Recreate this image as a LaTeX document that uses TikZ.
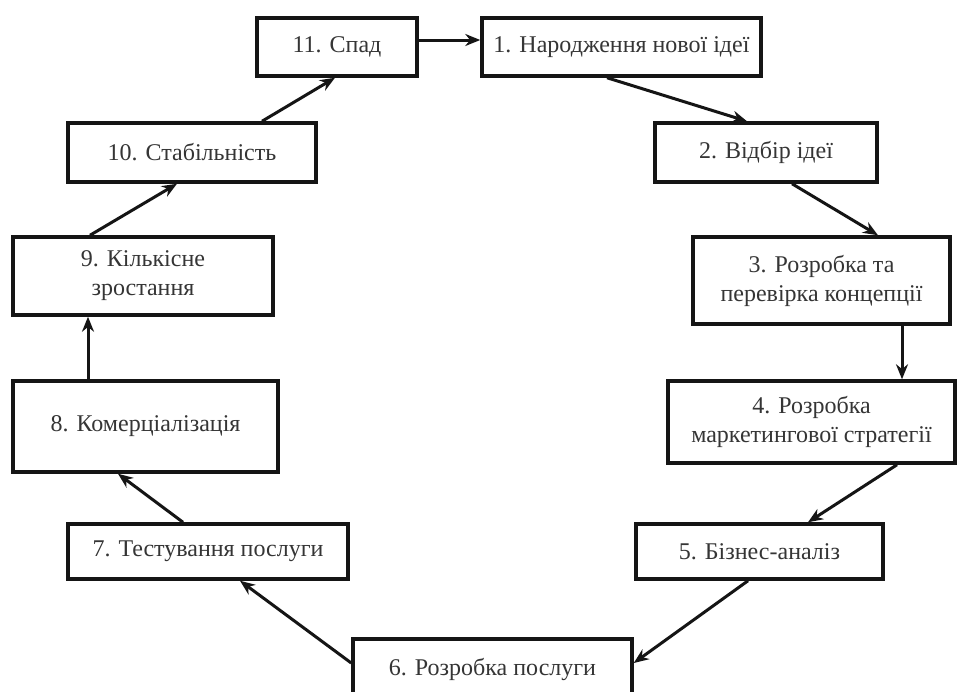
\documentclass[tikz,border=0pt]{standalone}
\usepackage{fontspec}
\setmainfont{Liberation Serif}
\usetikzlibrary{arrows.meta}
\definecolor{txt}{HTML}{353535}
\definecolor{ln}{HTML}{151515}
\begin{document}
\begin{tikzpicture}[x=1pt,y=-1pt,
  box/.style={draw=ln,line width=3.5pt,rectangle,inner sep=0pt,align=center,
    text=txt,font=\fontsize{24}{29}\selectfont},
  arr/.style={draw=ln,line width=3pt,-{Stealth[length=15pt,width=12pt]}}]
\useasboundingbox (0,0) rectangle (961,691);
\clip (0,0) rectangle (961,691);
\fill[white] (0,0) rectangle (961,691);
\node[box,minimum width=160pt,minimum height=58pt] (n11) at (337,47) {11. Спад};
\node[box,minimum width=279pt,minimum height=58pt] (n1) at (621.5,47) {1. Народження нової ідеї};
\node[box,minimum width=248pt,minimum height=59pt] (n10) at (192,152.5) {10. Стабільність};
\node[box,minimum width=222pt,minimum height=59pt] (n2) at (766,152.5) {2. Відбір ідеї};
\node[box,minimum width=260pt,minimum height=78pt] (n9) at (143,276) {9. Кількісне\\зростання};
\node[box,minimum width=257pt,minimum height=87pt] (n3) at (821.5,280.5) {3. Розробка та\\перевірка концепції};
\node[box,minimum width=265pt,minimum height=91pt] (n8) at (145.5,426.5) {8. Комерціалізація};
\node[box,minimum width=287pt,minimum height=82pt] (n4) at (811.5,422) {4. Розробка\\маркетингової стратегії};
\node[box,minimum width=280pt,minimum height=55pt] (n7) at (208,551.5) {7. Тестування послуги};
\node[box,minimum width=247pt,minimum height=55pt] (n5) at (759.5,551.5) {5. Бізнес-аналіз};
\node[box,minimum width=279pt,minimum height=61pt] (n6) at (492.5,669.5) {\raisebox{4.5pt}{6. Розробка послуги}};
\draw[arr] ([yshift=7pt]n11.east) -- ([yshift=7pt]n1.west);
\draw[arr] ([xshift=-14.5pt]n1.south) -- ([xshift=-19pt]n2.north);
\draw[arr] ([xshift=26pt]n2.south) -- ([xshift=56.5pt]n3.north);
\draw[arr] ([xshift=80.5pt]n3.south) -- ([xshift=80.5pt]n3.south |- n4.north);
\draw[arr] ([xshift=85.5pt]n4.south) -- ([xshift=48.5pt]n5.north);
\draw[arr] ([xshift=-11.5pt]n5.south) -- ([yshift=6.5pt]n6.east);
\draw[arr] ([yshift=6.5pt]n6.west) -- ([xshift=32pt]n7.south);
\draw[arr] ([xshift=-25pt]n7.north) -- ([xshift=-27.5pt]n8.south);
\draw[arr] ([xshift=-57.5pt]n8.north) -- ([xshift=-57.5pt]n8.north |- n9.south);
\draw[arr] ([xshift=-53pt]n9.north) -- ([xshift=-15pt]n10.south);
\draw[arr] ([xshift=70pt]n10.north) -- ([xshift=-2pt]n11.south);
\end{tikzpicture}
\end{document}
